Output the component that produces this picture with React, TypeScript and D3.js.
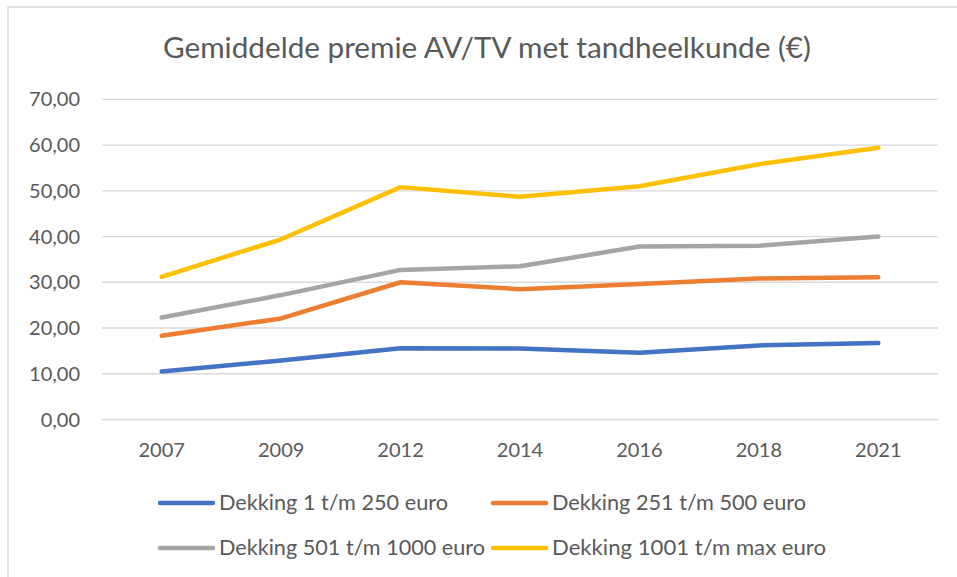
import React from "react";
import * as d3 from "d3";

const years = ["2007", "2009", "2012", "2014", "2016", "2018", "2021"];
const seriesNames = [
  "Dekking 1 t/m 250 euro",
  "Dekking 251 t/m 500 euro",
  "Dekking 501 t/m 1000 euro",
  "Dekking 1001 t/m max euro",
];
const dekking1_250 = [10.5, 12.9, 15.6, 15.5, 14.6, 16.2, 16.7];
const dekking251_500 = [18.3, 22.1, 30.0, 28.5, 29.6, 30.8, 31.1];
const dekking501_1000 = [22.3, 27.2, 32.7, 33.5, 37.8, 38.0, 40.0];
const dekking1001_max = [31.2, 39.4, 50.8, 48.7, 51.0, 55.8, 59.4];
const yTicks = [0, 10, 20, 30, 40, 50, 60, 70];
const colors = ["#4472C4", "#ED7D31", "#A5A5A5", "#FFC000"];
const title = "Gemiddelde premie AV/TV met tandheelkunde (€)";

const W = 957;
const H = 577;
const FONT = "Lato, 'Open Sans', sans-serif";
const TEXT = "#595959";

export default function App() {
  const allSeries = [dekking1_250, dekking251_500, dekking501_1000, dekking1001_max];
  const plotLeft = 102;
  const plotRight = 938;
  const x = d3.scalePoint<string>().domain(years).range([plotLeft, plotRight]).padding(0.5);
  const y = d3.scaleLinear().domain([0, 70]).range([419.5, 99.3]);
  const line = d3
    .line<number>()
    .x((_, i) => x(years[i]) as number)
    .y((d) => y(d));

  const legendPos = [
    { lx: 160, ly: 503, w: 229 },
    { lx: 493, ly: 503, w: 254 },
    { lx: 160, ly: 548, w: 266 },
    { lx: 493, ly: 548, w: 274 },
  ];

  return (
    <svg
      width={W}
      height={H}
      style={{ position: "absolute", left: 0, top: 0, background: "#fff" }}
      fontFamily={FONT}
    >
      <rect x={8} y={7} width={W + 10} height={H + 10} fill="#fff" stroke="#D9D9D9" strokeWidth={1.5} />
      <text x={163} y={58} fontSize={28} fill={TEXT} textLength={648} lengthAdjust="spacingAndGlyphs">
        {title}
      </text>
      {yTicks.map((t) => (
        <g key={t}>
          <line x1={plotLeft} x2={plotRight} y1={y(t)} y2={y(t)} stroke="#D9D9D9" strokeWidth={1.3} />
          <text x={80} y={y(t)} dy="0.35em" textAnchor="end" fontSize={20} fill={TEXT}>
            {d3.format(".2f")(t).replace(".", ",")}
          </text>
        </g>
      ))}
      {years.map((yr) => (
        <text key={yr} x={x(yr)} y={450} dy="0.35em" textAnchor="middle" fontSize={20} fill={TEXT}>
          {yr}
        </text>
      ))}
      {allSeries.map((s, i) => (
        <path
          key={i}
          d={line(s) as string}
          fill="none"
          stroke={colors[i]}
          strokeWidth={4.5}
          strokeLinecap="round"
          strokeLinejoin="round"
        />
      ))}
      {seriesNames.map((n, i) => (
        <g key={n}>
          <line
            x1={legendPos[i].lx}
            x2={legendPos[i].lx + 53}
            y1={legendPos[i].ly}
            y2={legendPos[i].ly}
            stroke={colors[i]}
            strokeWidth={4.5}
            strokeLinecap="round"
          />
          <text
            x={legendPos[i].lx + 59}
            y={legendPos[i].ly}
            dy="0.35em"
            fontSize={21}
            fill={TEXT}
            textLength={legendPos[i].w}
            lengthAdjust="spacingAndGlyphs"
          >
            {n}
          </text>
        </g>
      ))}
    </svg>
  );
}
